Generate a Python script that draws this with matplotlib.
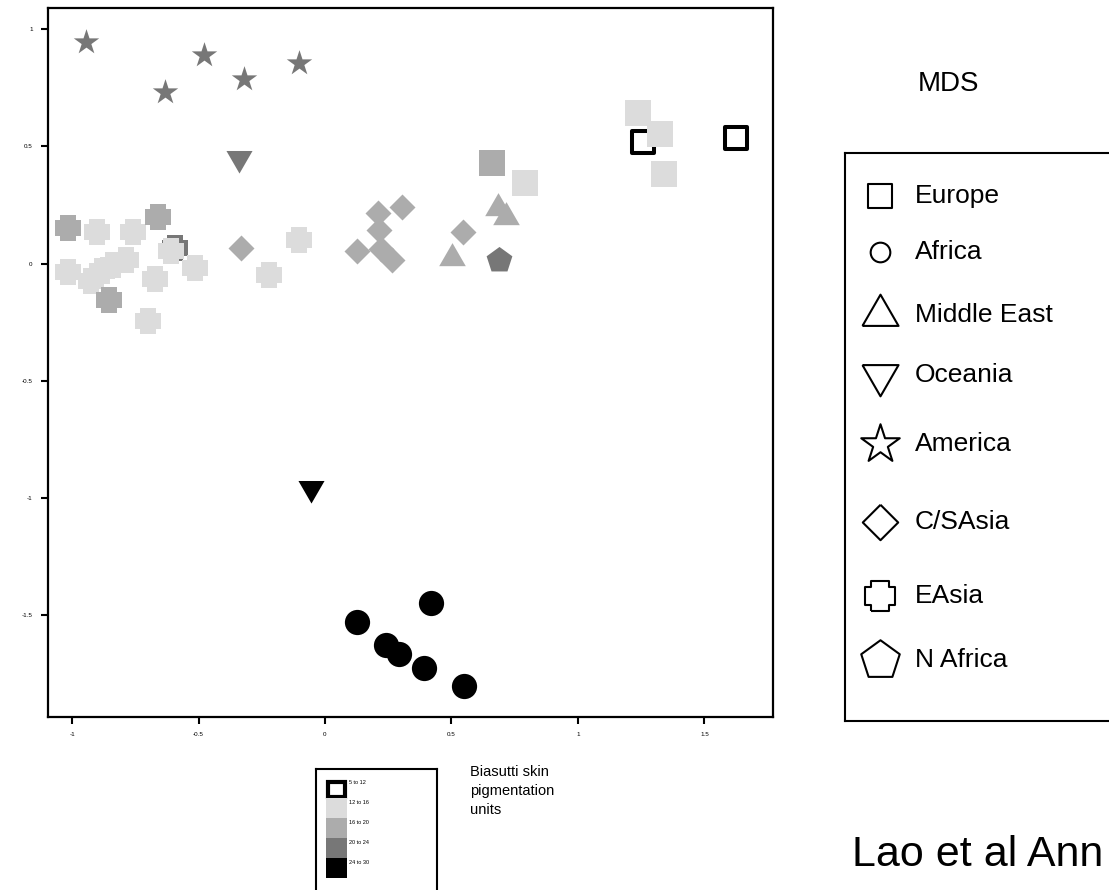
import matplotlib
matplotlib.use("Agg")
import matplotlib.pyplot as plt
from matplotlib.patches import Rectangle

plt.rcParams['font.family'] = ['Liberation Sans', 'DejaVu Sans']

# pigmentation classes (Biasutti units) -> grey level
pig_labels = ['5 to 12', '12 to 16', '16 to 20', '20 to 24', '24 to 30']
pig_colors = ['white', '#dcdcdc', '#acacac', '#777777', '#000000']

# MDS coordinates per region, with pigmentation class index
europe_x = [1.257, 1.237, 1.324, 1.340, 0.660, 0.791, 1.625]
europe_y = [0.518, 0.642, 0.552, 0.382, 0.429, 0.343, 0.535]
europe_c = [0, 1, 1, 1, 2, 1, 0]

africa_x = [0.126, 0.241, 0.292, 0.391, 0.419, 0.549]
africa_y = [-1.529, -1.627, -1.665, -1.725, -1.448, -1.802]
africa_c = [4, 4, 4, 4, 4, 4]

mideast_x = [0.684, 0.715, 0.502]
mideast_y = [0.237, 0.198, 0.023]
mideast_c = [2, 2, 2]

oceania_x = [-0.340, -0.055]
oceania_y = [0.450, -0.957]
oceania_c = [3, 4]

america_x = [-0.945, -0.632, -0.478, -0.320, -0.103]
america_y = [0.945, 0.731, 0.889, 0.787, 0.855]
america_c = [3, 3, 3, 3, 3]

csasia_x = [-0.332, 0.304, 0.209, 0.213, 0.126, 0.221, 0.265, 0.545]
csasia_y = [0.066, 0.241, 0.215, 0.143, 0.053, 0.062, 0.015, 0.134]
csasia_c = [2, 2, 2, 2, 2, 2, 2, 2]

easia_x = [-1.016, -0.901, -0.759, -0.660, -0.593, -0.609, -1.016, -0.925,
           -0.881, -0.838, -0.787, -0.672, -0.514, -0.854, -0.700, -0.103, -0.221]
easia_y = [0.151, 0.134, 0.134, 0.198, 0.066, 0.053, -0.036, -0.075,
           -0.032, -0.006, 0.015, -0.066, -0.019, -0.156, -0.245, 0.100, -0.049]
easia_c = [2, 1, 1, 2, 3, 1, 1, 1, 1, 1, 1, 1, 1, 2, 1, 1, 1]

nafrica_x = [0.688]
nafrica_y = [0.015]
nafrica_c = [3]

regions = ['Europe', 'Africa', 'Middle East', 'Oceania', 'America',
           'C/SAsia', 'EAsia', 'N Africa']

# marker shapes (closed outlines)
tri_up = [(-1, -0.577), (1, -0.577), (0, 1.155), (-1, -0.577)]
tri_down = [(-1, 0.577), (1, 0.577), (0, -1.155), (-1, 0.577)]
diamond = [(0, 1), (1, 0), (0, -1), (-1, 0), (0, 1)]
a = 0.3
cross = [(-a, -0.5), (a, -0.5), (a, -a), (0.5, -a), (0.5, a), (a, a), (a, 0.5),
         (-a, 0.5), (-a, a), (-0.5, a), (-0.5, -a), (-a, -a), (-a, -0.5)]

fig = plt.figure(figsize=(11.09, 8.9), dpi=100)
ax = fig.add_axes([48 / 1109, 1 - 717 / 890, 725 / 1109, 709 / 890])


def draw(xs, ys, cs, marker, size):
    for x, y, c in zip(xs, ys, cs):
        if c == 0:
            ax.scatter(x, y, marker=marker, s=size * 0.7, facecolor='white',
                       edgecolor='black', linewidths=2.9, zorder=3)
        else:
            ax.scatter(x, y, marker=marker, s=size, color=pig_colors[c],
                       linewidths=0, zorder=3)


draw(america_x, america_y, america_c, '*', 370)
draw(oceania_x, oceania_y, oceania_c, tri_down, 470)
draw(easia_x, easia_y, easia_c, cross, 370)
draw(csasia_x, csasia_y, csasia_c, diamond, 350)
draw(mideast_x, mideast_y, mideast_c, tri_up, 490)
draw(nafrica_x, nafrica_y, nafrica_c, 'p', 380)
draw(africa_x, africa_y, africa_c, 'o', 330)
draw(europe_x, europe_y, europe_c, 's', 340)

ax.set_xlim(-1.095, 1.771)
ax.set_ylim(-1.934, 1.09)
ax.set_xticks([-1, -0.5, 0, 0.5, 1, 1.5])
ax.set_xticklabels(['-1', '-0.5', '0', '0.5', '1', '1.5'])
ax.set_yticks([-1.5, -1, -0.5, 0, 0.5, 1])
ax.set_yticklabels(['-1.5', '-1', '-0.5', '0', '0.5', '1'])
ax.tick_params(direction='out', length=5, width=1.5, labelsize=4.5, pad=6)
for s in ax.spines.values():
    s.set_linewidth(1.6)

# region legend box
lg = fig.add_axes([845 / 1109, 1 - 721 / 890, 290 / 1109, 568 / 890])
lg.set_xlim(0, 290)
lg.set_ylim(568, 0)
lg.set_xticks([])
lg.set_yticks([])
for s in lg.spines.values():
    s.set_linewidth(1.5)
leg_markers = ['s', 'o', tri_up, tri_down, '*', diamond, cross, 'p']
leg_sizes = [280, 200, 900, 900, 850, 650, 480, 850]
leg_rows = [43, 99, 162, 222, 291, 369, 443, 507]
for name, m, sz, r in zip(regions, leg_markers, leg_sizes, leg_rows):
    lg.scatter(35, r, marker=m, s=sz, facecolor='white', edgecolor='black',
               linewidths=1.5, clip_on=False)
    lg.text(70, r, name, fontsize=19, va='center', ha='left')

fig.text(948 / 1109, 1 - 84 / 890, 'MDS', fontsize=20, ha='center', va='center')

# pigmentation legend box
pg = fig.add_axes([316 / 1109, 1 - 900 / 890, 121 / 1109, 131 / 890])
pg.set_xlim(0, 121)
pg.set_ylim(131, 0)
pg.set_xticks([])
pg.set_yticks([])
for s in pg.spines.values():
    s.set_linewidth(1.5)
for i, (lab, col) in enumerate(zip(pig_labels, pig_colors)):
    if i == 0:
        pg.add_patch(Rectangle((12, 13), 17, 15, facecolor='white',
                               edgecolor='black', linewidth=3))
    else:
        pg.add_patch(Rectangle((10, 9 + 20 * i), 21, 20, facecolor=col,
                               edgecolor='none'))
    pg.text(33, 14 + 20 * i - (1 if i == 4 else 0), lab, fontsize=4,
            va='center', ha='left')

fig.text(470 / 1109, 1 - 765 / 890, 'Biasutti skin\npigmentation\nunits',
         fontsize=10.5, va='top', ha='left', linespacing=1.45)
fig.text(852 / 1109, 1 - 855 / 890, 'Lao et al Ann', fontsize=31,
         va='center', ha='left')

fig.savefig('out.png', dpi=100)
